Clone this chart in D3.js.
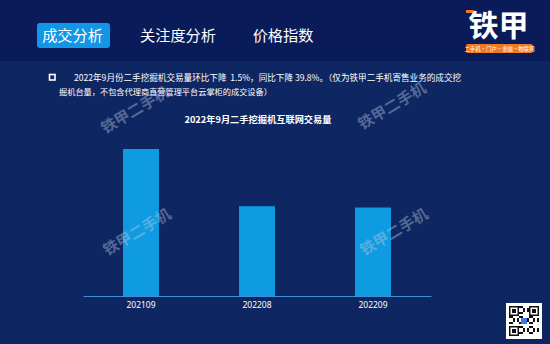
<!DOCTYPE html>
<html>
<head>
<meta charset="utf-8">
<script src="https://cdn.jsdelivr.net/npm/d3@7"></script>
<style>
  body { margin: 0; background: #0e2662; }
  svg { display: block; font-family: "Noto Sans CJK SC", "Noto Sans", sans-serif; }
</style>
</head>
<body>
<script>
// chart data
var months = ["202109", "202208", "202209"];
var volumes = [1000, 611, 602];
var tabs = ["成交分析", "关注度分析", "价格指数"];
var noteLines = [
  "2022年9月份二手挖掘机交易量环比下降  1.5%，同比下降 39.8%。（仅为铁甲二手机寄售业务的成交挖",
  "掘机台量，不包含代理商直营管理平台云掌柜的成交设备）"
];
var chartTitle = "2022年9月二手挖掘机互联网交易量";
var watermark = "铁甲二手机";

var W = 550, H = 344;

var svg = d3.select("body").append("svg")
    .attr("width", W)
    .attr("height", H);

// shrink a text's font until it takes the wanted width
function fitWidth(sel, w) {
  var node = sel.node();
  var fs = parseFloat(sel.style("font-size"));
  var len = node.getComputedTextLength();
  sel.style("font-size", (fs * w / len).toFixed(2) + "px");
}

// background + header band
svg.append("rect").attr("width", W).attr("height", H).attr("fill", "#0e2662");
svg.append("rect").attr("width", W).attr("height", 61).attr("fill", "#0a1b5a");

// tabs
var tabX = [72.5, 178, 283];
svg.append("rect")
    .attr("x", 37).attr("y", 23).attr("width", 73).attr("height", 25)
    .attr("rx", 3).attr("fill", "#1296e8");
svg.selectAll(".tab")
    .data(tabs)
  .enter().append("text")
    .attr("class", "tab")
    .attr("x", function(d, i) { return tabX[i]; })
    .attr("y", 41)
    .attr("text-anchor", "middle")
    .attr("fill", "#ffffff")
    .style("font-size", "15.2px")
    .text(function(d) { return d; });

// logo
svg.append("rect").attr("x", 466).attr("y", 10).attr("width", 7).attr("height", 3).attr("fill", "#f07a22");
svg.append("text")
    .attr("x", 498.5).attr("y", 36)
    .attr("text-anchor", "middle")
    .attr("fill", "#ffffff")
    .style("font-size", "30px")
    .style("font-weight", "bold")
    .text("铁甲");
svg.append("rect")
    .attr("x", 466).attr("y", 44).attr("width", 67).attr("height", 9)
    .attr("rx", 2).attr("fill", "#f07a22");
svg.append("text")
    .attr("x", 499.5).attr("y", 50.8)
    .attr("text-anchor", "middle")
    .attr("fill", "#ffffff")
    .style("font-size", "5.4px")
    .text("二手机·门户·金融·物联网");

// note text
svg.append("rect")
    .attr("x", 49.5).attr("y", 74.5).attr("width", 5.5).attr("height", 5.5)
    .attr("fill", "none").attr("stroke", "#ffffff").attr("stroke-width", 1.6);
var note1 = svg.append("text")
    .attr("x", 74).attr("y", 81)
    .attr("fill", "#ffffff")
    .style("white-space", "pre")
    .style("font-size", "8.6px")
    .text(noteLines[0]);
fitWidth(note1, 387);
var note2 = svg.append("text")
    .attr("x", 59).attr("y", 95)
    .attr("fill", "#ffffff")
    .style("font-size", "8.6px")
    .text(noteLines[1]);
fitWidth(note2, 213);

// chart title
var title = svg.append("text")
    .attr("x", 258).attr("y", 122.5)
    .attr("text-anchor", "middle")
    .attr("fill", "#ffffff")
    .style("font-size", "9.6px")
    .style("font-weight", "bold")
    .text(chartTitle);
fitWidth(title, 147);

// scales
var x = d3.scaleBand()
    .domain(months)
    .range([83, 431])
    .paddingInner(0.69)
    .paddingOuter(0.345);
var y = d3.scaleLinear()
    .domain([0, 1000])
    .range([296, 149]);

// bars
svg.selectAll(".bar")
    .data(volumes)
  .enter().append("rect")
    .attr("class", "bar")
    .attr("x", function(d, i) { return x(months[i]); })
    .attr("width", x.bandwidth())
    .attr("y", function(d) { return y(d); })
    .attr("height", function(d) { return y(0) - y(d); })
    .attr("fill", "#0e9be2");

// x axis
var xAxis = svg.append("g")
    .attr("transform", "translate(0,296)")
    .call(d3.axisBottom(x).tickSize(0).tickPadding(6));
xAxis.select(".domain").attr("stroke", "#3d8fd6").attr("stroke-width", 1);
xAxis.selectAll("text")
    .attr("fill", "#ffffff")
    .style("font-size", "8.5px")
    .style("font-family", "'Noto Sans', sans-serif");

// watermarks
var wmPos = [[135, 110], [392, 106], [137, 232], [394, 232]];
svg.selectAll(".wm")
    .data(wmPos)
  .enter().append("text")
    .attr("class", "wm")
    .attr("transform", function(d) { return "translate(" + d[0] + "," + d[1] + ") rotate(-31)"; })
    .attr("text-anchor", "middle")
    .attr("dy", "0.35em")
    .attr("fill", "rgba(190,200,225,0.42)")
    .style("font-size", "15.2px")
    .style("font-weight", "bold")
    .text(watermark);

// qr code placeholder
var qr = svg.append("g").attr("transform", "translate(506,303)");
qr.append("rect").attr("width", 36).attr("height", 36).attr("fill", "#ffffff");
var cells = [];
for (var r = 0; r < 15; r++) {
  for (var c = 0; c < 15; c++) {
    var finder = (r < 5 && c < 5) || (r < 5 && c > 9) || (r > 9 && c < 5);
    if (finder) continue;
    if (((r * 7 + c * 11 + r * c) % 5) < 2) cells.push([r, c]);
  }
}
qr.selectAll(".cell").data(cells).enter().append("rect")
    .attr("x", function(d) { return 3 + d[1] * 2; })
    .attr("y", function(d) { return 3 + d[0] * 2; })
    .attr("width", 2).attr("height", 2).attr("fill", "#111");
[[3, 3], [23, 3], [3, 23]].forEach(function(p) {
  qr.append("rect").attr("x", p[0] + 0.75).attr("y", p[1] + 0.75).attr("width", 8.5).attr("height", 8.5)
    .attr("fill", "none").attr("stroke", "#111").attr("stroke-width", 1.5);
  qr.append("rect").attr("x", p[0] + 3).attr("y", p[1] + 3).attr("width", 4).attr("height", 4).attr("fill", "#111");
});
qr.append("rect").attr("x", 15).attr("y", 15).attr("width", 6).attr("height", 6).attr("fill", "#3b7be0");
</script>
</body>
</html>
